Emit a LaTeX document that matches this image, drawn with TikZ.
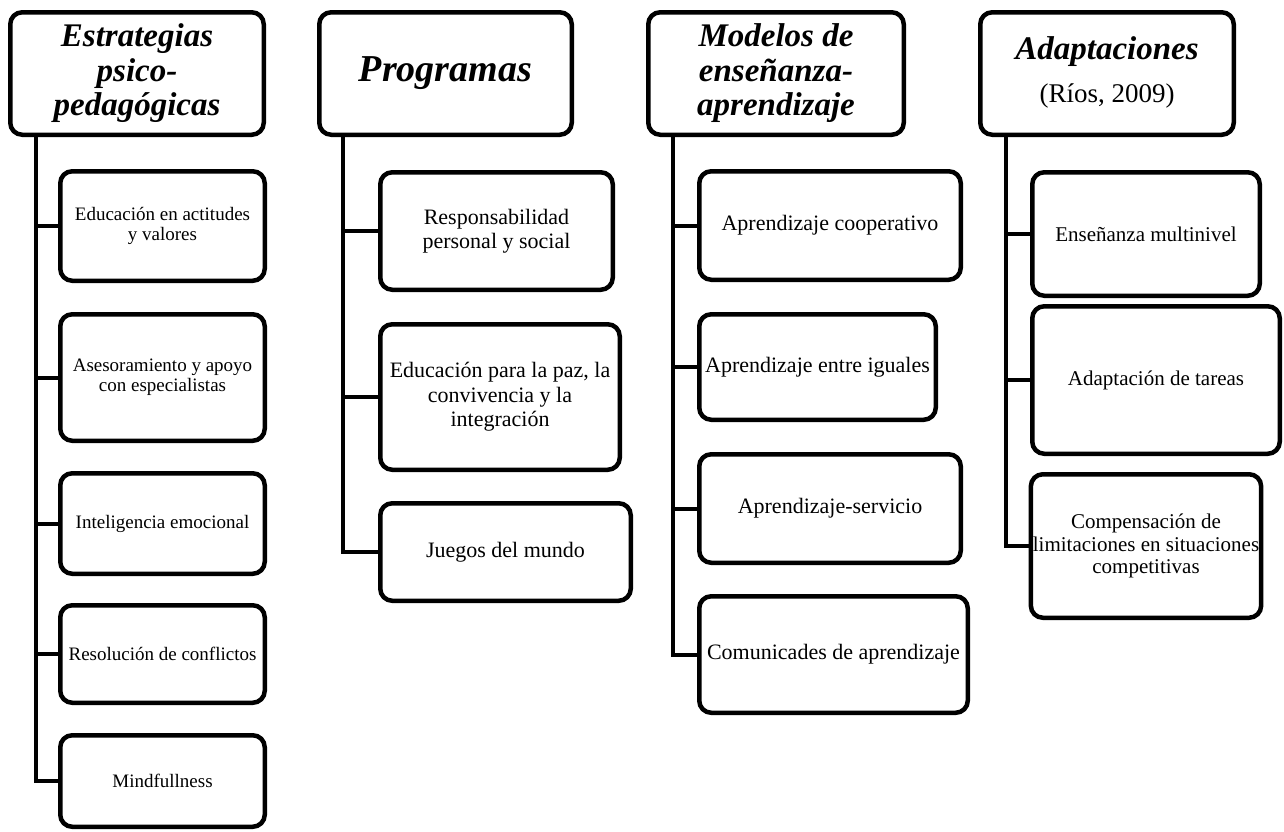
\documentclass[tikz,border=0pt]{standalone}
\usepackage{fontspec}
\setmainfont{Liberation Serif}
\begin{document}
\begin{tikzpicture}[x=1pt,y=-1pt,
  box/.style={draw, line width=4.5pt, rounded corners=12pt, align=center, inner sep=2pt},
  head/.style={box, font=\fontsize{33}{34.5}\selectfont\bfseries\itshape},
  subA/.style={box, font=\fontsize{19}{20}\selectfont},
  subB/.style={box, font=\fontsize{22}{24.5}\selectfont},
  subC/.style={box, font=\fontsize{22}{24}\selectfont},
  subD/.style={box, font=\fontsize{21}{22.5}\selectfont},
  link/.style={line width=4pt}]
\useasboundingbox (0,0) rectangle (1284,831);

% headers
\node[head, minimum width=253.5pt, minimum height=122.5pt] (h1) at (137,73.5) {Estrategias\\psico-\\pedagógicas};
\node[head, minimum width=252.5pt, minimum height=122.5pt, font=\fontsize{38}{40}\selectfont\bfseries\itshape] (h2) at (445.5,73.5) {Programas};
\node[head, minimum width=255.5pt, minimum height=122.5pt] (h3) at (776,73.5) {Modelos de\\enseñanza-\\aprendizaje};
\node[head, minimum width=253.5pt, minimum height=122.5pt, text depth=8pt] (h4) at (1107,73.5) {Adaptaciones\\[8pt]{\fontsize{27}{30}\selectfont\mdseries\upshape (Ríos, 2009)}};

% column 1
\node[subA, minimum width=204.5pt, minimum height=109.5pt] (c11) at (162.5,226) {Educación en actitudes\\y valores};
\node[subA, minimum width=204.5pt, minimum height=126.5pt] (c12) at (162.5,377.5) {Asesoramiento y apoyo\\con especialistas};
\node[subA, minimum width=204.5pt, minimum height=100.5pt] (c13) at (162.5,523.5) {Inteligencia emocional};
\node[subA, minimum width=204.5pt, minimum height=97.5pt] (c14) at (162.5,654) {Resolución de conflictos};
\node[subA, minimum width=204.5pt, minimum height=91.5pt] (c15) at (162.5,781) {Mindfullness};

% column 2
\node[subB, minimum width=232.5pt, minimum height=117.5pt] (c21) at (496.5,231) {Responsabilidad\\personal y social};
\node[subB, minimum width=239.5pt, minimum height=145.5pt] (c22) at (500,397) {Educación para la paz, la\\convivencia y la\\integración};
\node[subB, minimum width=250.5pt, minimum height=97.5pt] (c23) at (505.5,552) {Juegos del mundo};

% column 3
\node[subC, minimum width=261.5pt, minimum height=108.5pt] (c31) at (830,225.5) {Aprendizaje cooperativo};
\node[subC, minimum width=236.5pt, minimum height=105.5pt] (c32) at (817.5,367) {Aprendizaje entre iguales};
\node[subC, minimum width=261.5pt, minimum height=108.5pt] (c33) at (830,508.5) {Aprendizaje-servicio};
\node[subC, minimum width=268.5pt, minimum height=116.5pt] (c34) at (833.5,654.5) {Comunicades de aprendizaje};

% column 4
\node[subD, minimum width=227.5pt, minimum height=123.5pt] (c41) at (1146,234) {Enseñanza multinivel};
\node[subD, minimum width=247.5pt, minimum height=147.5pt] (c42) at (1156,380) {Adaptación de tareas};
\node[subD, minimum width=227.5pt, minimum height=143.5pt] (c43) at (1146,546) {Compensación de\\limitaciones en situaciones\\competitivas};

% trunks
\coordinate (s1) at (36,136);
\coordinate (s2) at (343,136);
\coordinate (s3) at (673,136);
\coordinate (s4) at (1006,136);

\draw[link] (s1) |- (c15.west);
\foreach \c in {c11,c12,c13,c14} \draw[link] (s1 |- \c.west) -- (\c.west);
\draw[link] (s2) |- (c23.west);
\foreach \c in {c21,c22} \draw[link] (s2 |- \c.west) -- (\c.west);
\draw[link] (s3) |- (c34.west);
\foreach \c in {c31,c32,c33} \draw[link] (s3 |- \c.west) -- (\c.west);
\draw[link] (s4) |- (c43.west);
\foreach \c in {c41,c42} \draw[link] (s4 |- \c.west) -- (\c.west);
\end{tikzpicture}
\end{document}
